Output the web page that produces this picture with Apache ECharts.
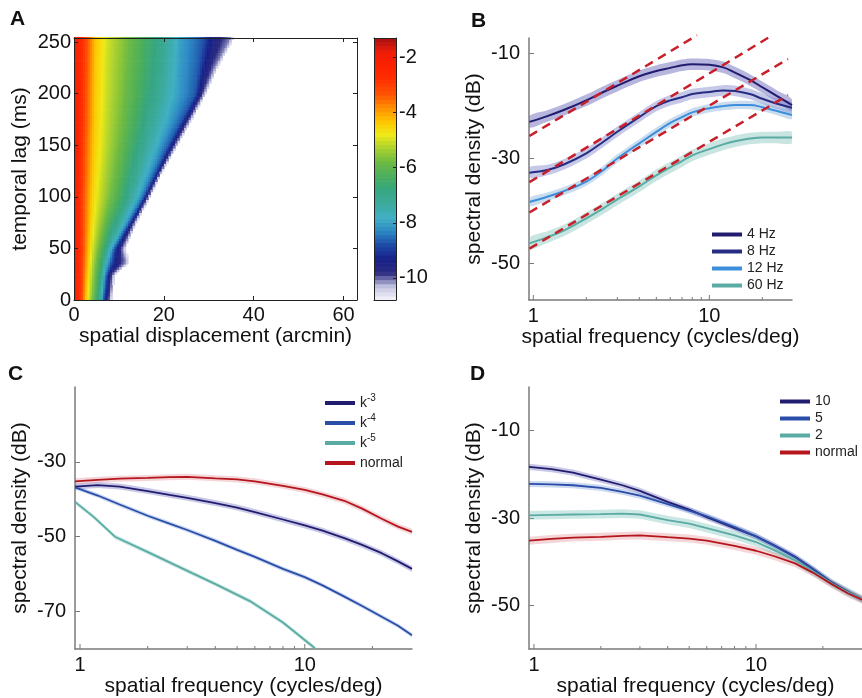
<!DOCTYPE html>
<html>
<head>
<meta charset="utf-8">
<script src="https://cdn.jsdelivr.net/npm/echarts@6/dist/echarts.min.js"></script>
<style>
  html, body { margin: 0; background: #fff; }
  #main { width: 862px; height: 698px; }
</style>
</head>
<body>
<div id="main"></div>
<script>
var chart = echarts.init(document.getElementById('main'));

// ---- panel A: displacement (arcmin) where log density crosses each level, one row per lag
var lagsA = [0, 25, 37, 50, 75, 100, 125, 150, 175, 200, 225, 254];
var levelsA = [-1.8, -3.3, -4.4, -5.0, -6.0, -7.0, -8.0, -8.7, -9.5, -10.1, -10.6];
var contourA = [
  [0, 1.8, 2.7, 3.3, 4.5, 5.5, 6.2, 6.6, 7.2, 7.9, 8.3],
  [0, 1.9, 3.0, 3.7, 5.0, 6.0, 6.8, 7.3, 7.9, 8.6, 9.0],
  [0, 2.0, 3.2, 3.9, 5.3, 6.5, 7.5, 8.3, 9.5, 11.5, 12.3],
  [0, 2.1, 3.4, 4.2, 5.8, 7.2, 8.4, 9.0, 9.8, 10.8, 11.3],
  [0, 2.1, 3.7, 4.8, 7.2, 9.5, 11.5, 12.3, 12.9, 13.4, 13.8],
  [0, 2.1, 4.0, 5.5, 9.0, 12.0, 14.5, 15.5, 16.0, 16.5, 16.8],
  [0, 2.3, 4.3, 6.0, 10.0, 13.5, 16.8, 18.2, 18.9, 19.3, 19.6],
  [0, 2.4, 4.5, 6.5, 11.0, 15.0, 19.0, 21.0, 21.8, 22.5, 22.9],
  [0, 2.6, 4.7, 6.8, 11.8, 16.5, 21.3, 24.0, 25.0, 25.7, 26.1],
  [0, 2.7, 4.8, 7.0, 12.5, 18.0, 23.0, 27.0, 28.0, 28.8, 29.2],
  [0, 2.8, 4.9, 7.2, 13.0, 18.8, 23.3, 27.8, 29.3, 31.2, 31.8],
  [0, 2.9, 5.0, 7.5, 13.5, 19.5, 23.6, 28.7, 31.0, 34.8, 35.5]
];
var cmapA = ['#f6f6fb', '#c4c4e2', '#2a2a80', '#17208a', '#1e4aa6', '#2c88c4', '#40b0c4',
  '#3caa9c', '#36a682', '#4aae5c', '#6cba44', '#a8d030', '#eeea18', '#ffc400', '#ff8c00',
  '#ff5000', '#ff3000', '#fc2200', '#ee1c08', '#a81010'];
var cbarTicks = [-10, -8, -6, -4, -2];
var dispTicksA = [0, 20, 40, 60];
var lagTicksA = [0, 50, 100, 150, 200, 250];

// ---- panel B
var freqB = [0.95, 1.2, 1.5, 2, 2.5, 3, 4, 5, 6, 7, 8, 10, 12, 14, 17, 20, 24, 29.5];
var hz4 = [-23.0, -21.9, -20.7, -18.9, -17.3, -16.1, -14.3, -13.3, -12.7, -12.2, -12.0, -12.1, -12.6, -13.6, -15.0, -16.4, -18.0, -19.8];
var hz8 = [-32.7, -32.2, -31.1, -29.0, -26.8, -24.9, -22.1, -20.0, -18.9, -18.3, -17.7, -17.3, -17.0, -17.1, -17.7, -18.6, -19.5, -20.3];
var hz12 = [-38.3, -37.3, -36.2, -34.4, -32.2, -30.0, -27.1, -24.9, -23.2, -22.1, -21.2, -20.4, -20.0, -19.8, -19.8, -20.2, -20.9, -21.7];
var hz60 = [-46.2, -45.0, -43.7, -41.4, -39.5, -37.8, -35.3, -33.2, -31.7, -30.5, -29.4, -28.2, -27.3, -26.7, -26.2, -26.0, -26.0, -26.0];
var bandB = [1.1, 1.0, 0.8, 1.1];
var dashFreqB = [[0.95, 8.5], [0.95, 22], [0.95, 28], [0.95, 28]];
var dashDbB = [[-25.7, -6.5], [-34.5, -6.8], [-40.3, -11.0], [-47.2, -17.9]];
var dbTicksB = [-50, -30, -10];

// ---- panels C and D
var freqCD = [0.95, 1.2, 1.5, 2, 2.5, 3, 4, 5, 6, 8, 10, 12, 15, 18, 22, 26, 30];
var k3 = [-36.6, -36.2, -36.6, -37.8, -38.8, -39.6, -41.0, -42.2, -43.4, -45.4, -47.0, -48.4, -50.4, -52.2, -54.4, -56.6, -58.6];
var k4 = [-36.8, -39.0, -41.4, -44.4, -46.5, -48.2, -51.1, -53.5, -55.4, -58.6, -60.8, -63.0, -66.0, -68.5, -71.4, -73.8, -76.3];
var freqK5 = [0.95, 1.15, 1.43, 2.05, 2.88, 4.05, 5.7, 8.0, 11.1];
var k5 = [-40.7, -44.7, -50.0, -54.4, -58.6, -62.8, -67.2, -72.9, -79.8];
var normal = [-35.2, -34.8, -34.5, -34.3, -34.1, -34.0, -34.4, -34.7, -35.2, -36.4, -37.5, -38.7, -40.4, -42.5, -45.2, -47.3, -48.7];
var d10 = [-18.3, -18.8, -19.6, -21.2, -22.5, -23.8, -26.3, -28.1, -29.8, -32.3, -34.2, -36.2, -38.9, -41.6, -44.8, -46.9, -48.6];
var d5 = [-22.2, -22.3, -22.5, -23.1, -24.0, -24.9, -26.8, -28.3, -29.6, -32.1, -34.2, -36.3, -39.0, -41.7, -44.9, -47.0, -48.6];
var d2 = [-29.4, -29.3, -29.2, -29.1, -29.0, -29.2, -30.5, -31.3, -32.3, -34.0, -35.5, -37.3, -39.7, -42.2, -45.0, -47.0, -48.6];
var bandC = [0.8, 0.6, 0.6, 0.8];
var bandD = [0.7, 0.7, 1.0, 0.9];
var dbTicksC = [-70, -50, -30];
var dbTicksD = [-50, -30, -10];

var freqMajor = [1, 10];
var freqMinor = [2, 3, 4, 5, 6, 7, 8, 9, 20];

// ---- styles
var font = '"Liberation Sans", Arial, sans-serif';
var gray = '#7a7a7a';
var navy = '#221c6e', navy2 = '#262c82', blue = '#2a4da8', sky = '#3d8fdc', teal = '#5aaba4', red = '#b5161d';

// build the A field from the contour table
var fieldA = [];
for (var lag = 1.25; lag < 254; lag += 2.5) {
  var i = 0;
  while (i < lagsA.length - 2 && lagsA[i + 1] < lag) i++;
  var t = (lag - lagsA[i]) / (lagsA[i + 1] - lagsA[i]);
  var row = contourA[i].map(function (v, k) { return v + (contourA[i + 1][k] - v) * t; });
  for (var d = 0.25; d < 63; d += 0.5) {
    if (d > row[row.length - 1]) break;
    var k = 0;
    while (k < row.length - 2 && row[k + 1] < d) k++;
    var s = (d - row[k]) / (row[k + 1] - row[k]);
    fieldA.push([d, lag, levelsA[k] + (levelsA[k + 1] - levelsA[k]) * s]);
  }
}
var cbarData = [];
for (var c = 0; c < 64; c++) {
  var v = -10.8 + (c + 0.5) * 9.5 / 64;
  cbarData.push([0.5, v, v]);
}

function cellRenderer(dx, dy) {
  return function (params, api) {
    var p0 = api.coord([api.value(0) - dx / 2, api.value(1) + dy / 2]);
    var p1 = api.coord([api.value(0) + dx / 2, api.value(1) - dy / 2]);
    return {
      type: 'rect',
      shape: { x: p0[0], y: p0[1], width: p1[0] - p0[0] + 0.6, height: p1[1] - p0[1] + 0.6 },
      style: { fill: api.visual('color') }
    };
  };
}

function tickSeries(idx, yMin) {
  return {
    type: 'custom', xAxisIndex: idx, yAxisIndex: idx, silent: true, clip: false,
    data: freqMajor.concat(freqMinor).map(function (f) { return [f, yMin]; }),
    renderItem: function (params, api) {
      var f = api.value(0);
      var p = api.coord([f, yMin]);
      var len = freqMajor.indexOf(f) >= 0 ? 5 : 3;
      return { type: 'line', shape: { x1: p[0], y1: p[1], x2: p[0], y2: p[1] - len }, style: { stroke: gray, lineWidth: 1 } };
    }
  };
}

function curve(idx, name, xs, ys, color, width, smooth) {
  return {
    type: 'line', name: name, xAxisIndex: idx, yAxisIndex: idx, silent: true, smooth: smooth,
    symbol: 'none', color: color, lineStyle: { color: color, width: width },
    data: xs.map(function (f, j) { return [f, ys[j]]; })
  };
}

// shaded error band around a curve, drawn as one polygon
function band(idx, xs, ys, w, color, smooth) {
  return {
    type: 'custom', xAxisIndex: idx, yAxisIndex: idx, silent: true, clip: true,
    data: [[xs[0], ys[0]]],
    renderItem: function (params, api) {
      var upper = xs.map(function (f, j) { return api.coord([f, ys[j] + w]); });
      var lower = xs.map(function (f, j) { return api.coord([f, ys[j] - w]); }).reverse();
      return {
        type: 'group',
        children: [
          { type: 'polyline', shape: { points: upper, smooth: smooth }, style: { stroke: color, lineWidth: 0.01, fill: null } },
          { type: 'polygon', shape: { points: upper.concat(lower), smooth: smooth }, style: { fill: color } }
        ]
      };
    }
  };
}

var labelStyle = { color: '#111', fontSize: 20, fontFamily: font };
var nameStyle = { color: '#111', fontSize: 21, fontFamily: font };

function freqAxis(idx, min, max) {
  return {
    type: 'log', logBase: 10, gridIndex: idx, min: min, max: max,
    name: 'spatial frequency (cycles/deg)', nameLocation: 'middle', nameGap: 26, nameTextStyle: nameStyle,
    axisLine: { show: true, onZero: false, lineStyle: { color: gray, width: 1.5 } },
    axisTick: { show: false }, splitLine: { show: false }, minorTick: { show: false },
    axisLabel: Object.assign({
      margin: 6, showMinLabel: false, showMaxLabel: false,
      formatter: function (v) { return freqMajor.indexOf(Math.round(v * 1000) / 1000) >= 0 ? String(Math.round(v)) : ''; }
    }, labelStyle)
  };
}

function dbAxis(idx, min, max, ticks) {
  return {
    type: 'value', gridIndex: idx, min: min, max: max,
    name: 'spectral density (dB)', nameLocation: 'middle', nameGap: 44, nameTextStyle: nameStyle,
    axisLine: { show: true, onZero: false, lineStyle: { color: gray, width: 1.5 } },
    axisTick: { show: true, inside: true, length: 5, customValues: ticks, lineStyle: { color: gray } },
    axisLabel: Object.assign({ margin: 9, customValues: ticks }, labelStyle),
    splitLine: { show: false }
  };
}

var boxLine = { show: true, onZero: false, lineStyle: { color: '#222', width: 1 } };

var series = [
  {
    type: 'custom', xAxisIndex: 0, yAxisIndex: 0, silent: true, clip: true,
    data: fieldA, renderItem: cellRenderer(0.5, 2.5)
  },
  {
    type: 'custom', xAxisIndex: 2, yAxisIndex: 2, silent: true, clip: true,
    data: cbarData, renderItem: cellRenderer(1, 9.5 / 64)
  }
];

// panel B
series = series.concat(
  [
    band(4, freqB, hz4, bandB[0], 'rgba(110,110,190,0.5)', 0.3),
    band(4, freqB, hz8, bandB[1], 'rgba(120,125,200,0.42)', 0.3),
    band(4, freqB, hz12, bandB[2], 'rgba(120,170,215,0.4)', 0.3),
    band(4, freqB, hz60, bandB[3], 'rgba(120,190,180,0.4)', 0.3),
    curve(4, '4 Hz', freqB, hz4, navy, 2, 0.4),
    curve(4, '8 Hz', freqB, hz8, navy2, 2, 0.4),
    curve(4, '12 Hz', freqB, hz12, sky, 2, 0.4),
    curve(4, '60 Hz', freqB, hz60, teal, 2, 0.4)
  ],
  dashFreqB.map(function (fs, j) {
    return {
      type: 'line', xAxisIndex: 4, yAxisIndex: 4, silent: true, symbol: 'none', clip: false,
      lineStyle: { color: '#c8202a', width: 2.5, type: [9, 6] },
      data: [[fs[0], dashDbB[j][0]], [fs[1], dashDbB[j][1]]]
    };
  }),
  [tickSeries(4, -57)]
);

// panel C
series = series.concat([
  band(5, freqCD, k3, bandC[0], 'rgba(100,100,185,0.35)', 0),
  band(5, freqCD, k4, bandC[1], 'rgba(90,130,210,0.3)', 0),
  band(5, freqK5, k5, bandC[2], 'rgba(110,190,180,0.35)', 0),
  band(5, freqCD, normal, bandC[3], 'rgba(210,90,100,0.25)', 0),
  curve(5, 'k-3', freqCD, k3, navy, 1.8, false),
  curve(5, 'k-4', freqCD, k4, blue, 1.8, false),
  curve(5, 'k-5', freqK5, k5, teal, 1.8, false),
  curve(5, 'normal', freqCD, normal, red, 1.8, false),
  tickSeries(5, -80)
]);

// panel D
series = series.concat([
  band(6, freqCD, d10, bandD[0], 'rgba(100,100,185,0.35)', 0),
  band(6, freqCD, d5, bandD[1], 'rgba(90,130,210,0.3)', 0),
  band(6, freqCD, d2, bandD[2], 'rgba(110,190,180,0.35)', 0),
  band(6, freqCD, normal, bandD[3], 'rgba(210,90,100,0.25)', 0),
  curve(6, '10', freqCD, d10, navy, 1.8, false),
  curve(6, '5', freqCD, d5, blue, 1.8, false),
  curve(6, '2', freqCD, d2, teal, 1.8, false),
  curve(6, 'normal', freqCD, normal, red, 1.8, false),
  tickSeries(6, -60)
]);

var legendBase = {
  orient: 'vertical', itemWidth: 30, itemHeight: 4, itemGap: 0, icon: 'rect',
  padding: 0, selectedMode: false
};

option = {
  animation: false,
  backgroundColor: '#fff',
  textStyle: { fontFamily: font },
  grid: [
    { left: 74, top: 38, width: 283, height: 262 },
    { left: 374, top: 38, width: 22, height: 262 },
    { left: 529, top: 38, width: 263, height: 262 },
    { left: 75, top: 387, width: 337, height: 262 },
    { left: 529, top: 387, width: 339, height: 262 }
  ],
  xAxis: [
    {
      type: 'value', gridIndex: 0, min: 0, max: 63, z: 5,
      name: 'spatial displacement (arcmin)', nameLocation: 'middle', nameGap: 23, nameTextStyle: nameStyle,
      axisLine: boxLine, splitLine: { show: false },
      axisTick: { inside: true, length: 4, customValues: dispTicksA, lineStyle: { color: '#222' } },
      axisLabel: Object.assign({ margin: 5, customValues: dispTicksA }, labelStyle)
    },
    {
      type: 'value', gridIndex: 0, min: 0, max: 63, position: 'top', z: 5,
      axisLine: boxLine, splitLine: { show: false }, axisLabel: { show: false },
      axisTick: { inside: true, length: 4, customValues: dispTicksA, lineStyle: { color: '#222' } }
    },
    {
      type: 'value', gridIndex: 1, min: 0, max: 1, z: 5, axisLine: boxLine,
      axisTick: { show: false }, axisLabel: { show: false }, splitLine: { show: false }
    },
    {
      type: 'value', gridIndex: 1, min: 0, max: 1, position: 'top', z: 5, axisLine: boxLine,
      axisTick: { show: false }, axisLabel: { show: false }, splitLine: { show: false }
    },
    freqAxis(2, 0.945, 29.5),
    freqAxis(3, 0.95, 30),
    freqAxis(4, 0.95, 30)
  ],
  yAxis: [
    {
      type: 'value', gridIndex: 0, min: 0, max: 254, z: 5,
      name: 'temporal lag (ms)', nameLocation: 'middle', nameGap: 43, nameTextStyle: nameStyle,
      axisLine: boxLine, splitLine: { show: false },
      axisTick: { inside: true, length: 4, customValues: lagTicksA, lineStyle: { color: '#222' } },
      axisLabel: Object.assign({ margin: 3, customValues: lagTicksA }, labelStyle)
    },
    {
      type: 'value', gridIndex: 0, min: 0, max: 254, position: 'right', z: 5,
      axisLine: boxLine, splitLine: { show: false }, axisLabel: { show: false },
      axisTick: { inside: true, length: 4, customValues: lagTicksA, lineStyle: { color: '#222' } }
    },
    {
      type: 'value', gridIndex: 1, min: -10.8, max: -1.3, z: 5, axisLine: boxLine,
      axisTick: { show: false }, axisLabel: { show: false }, splitLine: { show: false }
    },
    {
      type: 'value', gridIndex: 1, min: -10.8, max: -1.3, position: 'right', z: 5,
      axisLine: boxLine, splitLine: { show: false },
      axisTick: { inside: true, length: 3, customValues: cbarTicks, lineStyle: { color: '#222' } },
      axisLabel: Object.assign({ margin: 3, customValues: cbarTicks }, labelStyle)
    },
    dbAxis(2, -57, -7, dbTicksB),
    dbAxis(3, -80, -10, dbTicksC),
    dbAxis(4, -60, 0, dbTicksD)
  ],
  visualMap: {
    type: 'continuous', show: false, min: -10.8, max: -1.3, dimension: 2,
    seriesIndex: [0, 1], inRange: { color: cmapA }
  },
  legend: [
    Object.assign({
      data: ['4 Hz', '8 Hz', '12 Hz', '60 Hz'], left: 712, top: 226,
      textStyle: { fontSize: 14, lineHeight: 17, color: '#222', fontFamily: font }
    }, legendBase),
    Object.assign({
      data: ['k-3', 'k-4', 'k-5', 'normal'], left: 325, top: 393,
      formatter: function (name) {
        var m = name.match(/^k(-\d)$/);
        return m ? '{k|k}{s|' + m[1] + '}' : name;
      },
      textStyle: {
        fontSize: 14, lineHeight: 20, color: '#222', fontFamily: font,
        rich: { k: { fontSize: 14, color: '#222' }, s: { fontSize: 10, color: '#222', padding: [0, 0, 9, 0] } }
      }
    }, legendBase),
    Object.assign({
      data: ['10', '5', '2', 'normal'], left: 780, top: 393,
      textStyle: { fontSize: 14, lineHeight: 17, color: '#222', fontFamily: font }
    }, legendBase)
  ],
  graphic: [
    { type: 'text', left: 10, top: 9, style: { text: 'A', font: 'bold 21px ' + font, fill: '#111' } },
    { type: 'text', left: 471, top: 11, style: { text: 'B', font: 'bold 21px ' + font, fill: '#111' } },
    { type: 'text', left: 8, top: 364, style: { text: 'C', font: 'bold 21px ' + font, fill: '#111' } },
    { type: 'text', left: 470, top: 364, style: { text: 'D', font: 'bold 21px ' + font, fill: '#111' } }
  ],
  series: series
};

chart.setOption(option);
</script>
</body>
</html>
